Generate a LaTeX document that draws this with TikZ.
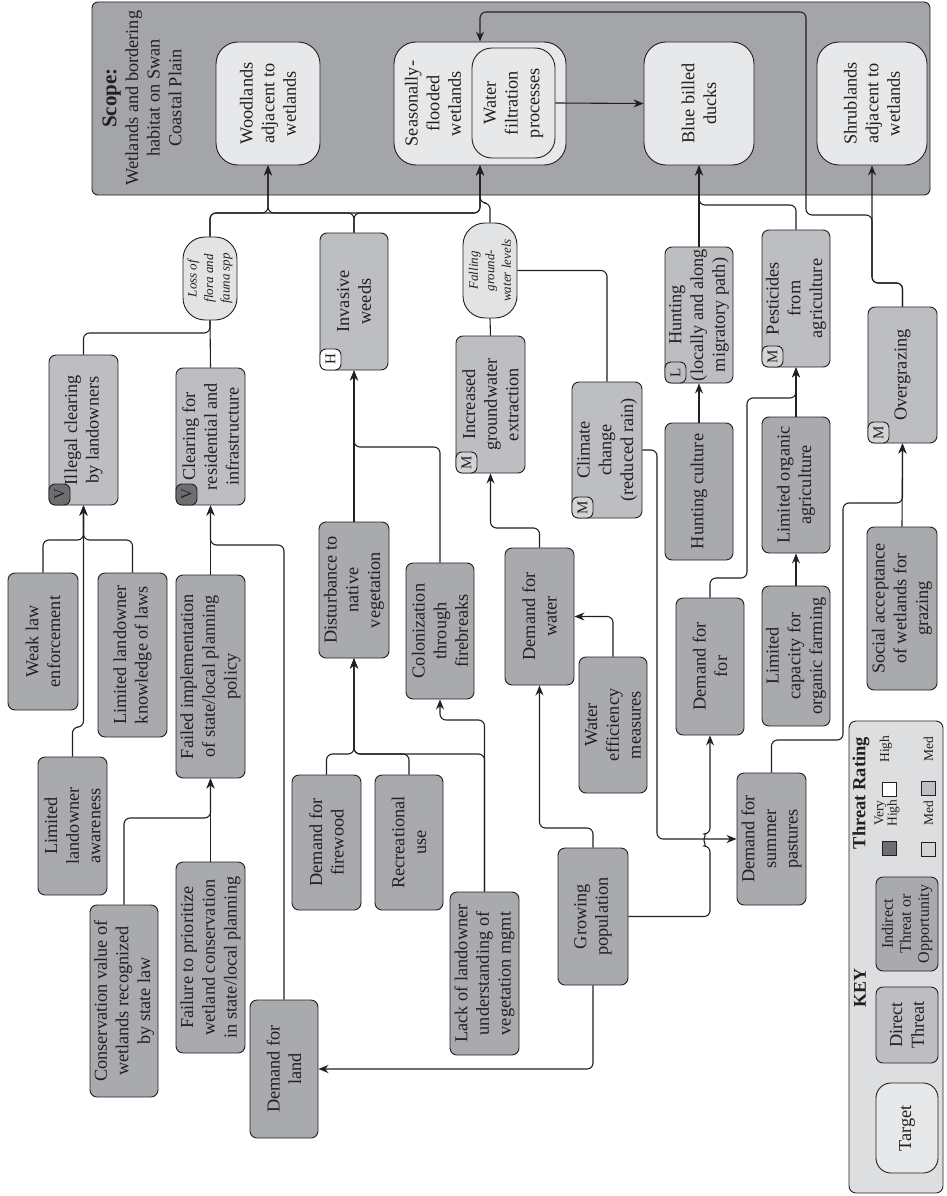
\documentclass[tikz,border=0pt]{standalone}
\usepackage{fontspec}
\setmainfont{Liberation Serif}
\usetikzlibrary{arrows.meta}
\definecolor{ink}{HTML}{231F20}
\definecolor{scopec}{HTML}{A4A5A8}
\definecolor{factorc}{HTML}{A9AAAD}
\definecolor{directc}{HTML}{BDBEC1}
\definecolor{targetc}{HTML}{E7E8E9}
\definecolor{resultc}{HTML}{E2E3E5}
\definecolor{keyc}{HTML}{DDDEE0}
\definecolor{vhc}{HTML}{6D6E71}
\definecolor{medc}{HTML}{D3D4D6}
\definecolor{lowc}{HTML}{BDBEC1}
\newcommand\fs{\fontsize{18.3}{21.7}\selectfont}
\begin{document}
\begin{tikzpicture}[x=1pt,y=1pt,
  base/.style={rotate=90, draw=ink, line width=0.9pt, inner sep=0pt, align=center, text=ink, font=\fs},
  sz/.style 2 args={minimum width=#1pt, minimum height=#2pt},
  factor/.style={base, fill=factorc, rounded corners=7pt},
  direct/.style={base, fill=directc, rounded corners=7pt},
  target/.style={base, fill=targetc, rounded corners=22pt},
  result/.style={base, fill=resultc, rounded corners=22pt, font=\fontsize{13}{16.5}\selectfont\itshape},
  rot/.style={rotate=90, inner sep=0pt, align=center, text=ink, font=\fs},
  badge/.style={rotate=90, draw=ink, line width=0.9pt, rounded corners=6pt, minimum width=21pt, minimum height=21pt, inner sep=0pt, text=ink, font=\fontsize{15}{15}\selectfont, anchor=north west},
  conn/.style={draw=ink, line width=1.1pt, rounded corners=6pt},
  arr/.style={conn, -{Stealth[length=10pt,width=8pt]}},
  sq/.style={draw=ink, line width=0.8pt, minimum width=14pt, minimum height=14pt, inner sep=0pt},
  small/.style={rotate=90, inner sep=0pt, align=center, text=ink, font=\fontsize{13.5}{11.5}\selectfont}
]
\useasboundingbox (0,0) rectangle (946,-1196);

% scope
\node[draw=ink, line width=0.9pt, fill=scopec, rounded corners=6pt, minimum width=838pt, minimum height=193pt, inner sep=0pt] (scope) at (511,-98.5) {};
\node[rot] (scopet) at (142,-98) {{\fontsize{21}{23}\selectfont\bfseries Scope:}\\Wetlands and bordering\\habitat on Swan\\Coastal Plain};

% targets
\node[target, sz={123}{104}] (wood) at (268,-103.5) {Woodlands\\adjacent to\\wetlands};
\node[target, sz={123}{172}] (sfw) at (480,-103.5) {};
\node[rot] (sfwt) at (433,-103.5) {Seasonally-\\flooded\\wetlands};
\node[target, sz={110}{83}, rounded corners=20pt] (wf) at (513.5,-103) {Water\\filtration\\processes};
\node[target, sz={123}{110}] (bbd) at (699,-103.5) {Blue billed\\ducks};
\node[target, sz={123}{110}] (shr) at (872,-103.5) {Shrublands\\adjacent to\\wetlands};

% intermediate results
\node[result, sz={83}{54}] (loss) at (210,-278.5) {Loss of\\flora and\\fauna spp};
\node[result, sz={95}{54}] (fall) at (490,-270.5) {Falling\\ground-\\water levels};

% direct threats
\node[direct, sz={150}{69}] (ill) at (83.5,-430) {Illegal clearing\\by landowners};
\node[direct, sz={137}{69}] (clr) at (210.5,-436.5) {Clearing for\\residential and\\infrastructure};
\node[direct, sz={137}{68}] (inv) at (354,-301.5) {Invasive\\weeds};
\node[direct, sz={137}{69}] (igw) at (490.5,-404.5) {Increased\\groundwater\\extraction};
\node[direct, sz={136}{70}] (cc) at (607,-450) {Climate\\change\\(reduced rain)};
\node[direct, sz={136}{68}] (hunt) at (699,-315) {Hunting\\(locally and along\\migratory path)};
\node[direct, sz={137}{68}] (pest) at (796,-298.5) {Pesticides\\from\\agriculture};
\node[direct, sz={136}{69}] (og) at (902.5,-375) {Overgrazing};

% badges
\node[badge, fill=vhc] (illb) at (ill.north west) {V};
\node[badge, fill=vhc] (clrb) at (clr.north west) {V};
\node[badge, fill=white] (invb) at (inv.north west) {H};
\node[badge, fill=medc] (igwb) at (igw.north west) {M};
\node[badge, fill=medc] (ccb) at (cc.north west) {M};
\node[badge, fill=lowc] (huntb) at (hunt.north west) {L};
\node[badge, fill=medc] (pestb) at (pest.north west) {M};
\node[badge, fill=medc] (ogb) at (og.north west) {M};

% contributing factors
\node[factor, sz={137}{70}] (weak) at (43,-641.5) {Weak law\\enforcement};
\node[factor, sz={164}{69}] (lkl) at (132.5,-655) {Limited landowner\\knowledge of laws};
\node[factor, sz={138}{69}] (aware) at (72.5,-826) {Limited\\landowner\\awareness};
\node[factor, sz={203}{69}] (fail) at (210.5,-676.5) {Failed implementation\\of state/local planning\\policy};
\node[factor, sz={192}{68}] (cons) at (124,-1001) {Conservation value of\\wetlands recognized\\by state law};
\node[factor, sz={191}{69}] (fprio) at (210.5,-957.5) {Failure to prioritize\\wetland conservation\\in state/local planning};
\node[factor, sz={138}{68}] (dland) at (284,-1069) {Demand for\\land};
\node[factor, sz={136}{70}] (dist) at (354,-590) {Disturbance to\\native\\vegetation};
\node[factor, sz={136}{68}] (colo) at (440,-631) {Colonization\\through\\firebreaks};
\node[factor, sz={135}{69}] (fire) at (326.5,-842.5) {Demand for\\firewood};
\node[factor, sz={135}{68}] (rec) at (409,-842.5) {Recreational\\use};
\node[factor, sz={163}{69}] (lack) at (484.5,-973.5) {Lack of landowner\\understanding of\\vegetation mgmt};
\node[factor, sz={137}{69}] (dw) at (539.5,-616.5) {Demand for\\water};
\node[factor, sz={136}{68}] (weff) at (613,-725) {Water\\efficiency\\measures};
\node[factor, sz={137}{70}] (gp) at (593,-916.5) {Growing\\population};
\node[factor, sz={137}{68}] (dff) at (710,-666.5) {Demand for\\for};
\node[factor, sz={137}{68}] (hc) at (699,-491.5) {Hunting culture};
\node[factor, sz={136}{68}] (loa) at (796,-485) {Limited organic\\agriculture};
\node[factor, sz={140}{68}] (lcap) at (796,-656) {Limited\\capacity for\\organic farming};
\node[factor, sz={132}{69}] (dsp) at (771.5,-839) {Demand for\\summer\\pastures};
\node[factor, sz={163}{70}] (soc) at (902,-608.5) {Social acceptance\\of wetlands for\\grazing};

% connectors
\draw[arr] (weak.east) -- (43,-540) -- (83.5,-540) -- (ill.west);
\draw[arr] (lkl.east) -- (132.5,-540) -- (83.5,-540) -- (ill.west);
\draw[arr] (aware.east) -- (72.5,-727) -- (83.5,-727) -- (ill.west);
\draw[conn] (ill.east) -- (83.5,-333) -- (210,-333) -- (loss.west);
\draw[conn] (clr.east) -- (loss.west);
\draw[arr] (cons.east) -- (124,-818) -- (210.5,-818) -- (fail.west);
\draw[arr] (fprio.east) -- (fail.west);
\draw[arr] (fail.east) -- (clr.west);
\draw[arr] (dland.east) -- (284,-545) -- (210.5,-545) -- (clr.west);
\draw[arr] (loss.east) -- (210,-213) -- (268,-213) -- (wood.west);
\draw[arr] (loss.east) -- (210,-213) -- (480,-213) -- (sfw.west);
\draw[arr] (inv.east) -- (354,-213) -- (268,-213) -- (wood.west);
\draw[arr] (inv.east) -- (354,-213) -- (480,-213) -- (sfw.west);
\draw[arr] (fall.east) -- (490,-203) -- (480,-203) -- (sfw.west);
\draw[conn] (igw.east) -- (fall.west);
\draw[conn] (cc.east) |- (fall.south);
\draw[arr] (dist.east) -- (inv.west);
\draw[arr] (colo.east) -- (440,-447) -- (354,-447) -- (inv.west);
\draw[arr] (fire.east) -- (326.5,-754) -- (354,-754) -- (dist.west);
\draw[arr] (rec.east) -- (409,-754) -- (354,-754) -- (dist.west);
\draw[arr] (lack.east) -- (484.5,-754) -- (354,-754) -- (dist.west);
\draw[arr] (lack.east) -- (484.5,-720) -- (440,-720) -- (colo.west);
\draw[arr] (dw.east) -- (539.5,-528) -- (490.5,-528) -- (igw.west);
\draw[arr] (weff.east) |- (dw.south);
\draw[arr] (gp.east) -- (593,-828) -- (539.5,-828) -- (dw.west);
\draw[arr] (gp.west) |- (dland.south);
\draw[arr] (gp.south) -- (710,-916.5) -- (710,-846) arc[start angle=-90, end angle=-270, radius=6] -- (dff.west);
\draw[arr] (cc.south) -- (657,-450) -- (657,-839) -- (dsp.north);
\draw[arr] (hc.east) -- (hunt.west);
\draw[arr] (hunt.east) -- (bbd.west);
\draw[arr] (pest.east) -- (796,-205) -- (699,-205) -- (bbd.west);
\draw[arr] (loa.east) -- (pest.west);
\draw[arr] (lcap.east) -- (loa.west);
\draw[arr] (dff.east) -- (710,-578) -- (747,-578) -- (747,-398) -- (796,-398) -- (pest.west);
\draw[arr] (soc.east) -- (og.west);
\draw[arr] (dsp.east) -- (771.5,-740) -- (843,-740) -- (843,-503) -- (902.5,-503) -- (og.west);
\draw[arr] (og.east) -- (902.5,-283) -- (872,-283) -- (shr.west);
\draw[arr] (og.east) -- (902.5,-283) -- (872,-283) -- (872,-215) -- (806,-215) -- (806,-12) -- (480,-12) -- (sfw.east);
\draw[arr] (wf.south) -- (bbd.north);

% key
\node[draw=ink, line width=0.9pt, fill=keyc, rounded corners=7pt, minimum width=94pt, minimum height=472pt, inner sep=0pt] (key) at (896,-957) {};
\node[rot, font=\fontsize{18}{20}\selectfont\bfseries] (keyt) at (860,-988) {KEY};
\node[target, sz={90}{62}, rounded corners=15pt] (kt) at (907,-1128) {Target};
\node[direct, sz={76}{62}] (kd) at (907,-1025) {Direct\\Threat};
\node[factor, sz={94}{62}, font=\fontsize{16}{18}\selectfont] (ki) at (907,-924) {Indirect\\Threat or\\Opportunity};
\node[rot, font=\fontsize{18.5}{20}\selectfont\bfseries] (trt) at (861,-793) {Threat Rating};
\node[sq, fill=vhc] (s1) at (889.5,-848) {};
\node[small] (t1) at (887,-813) {Very\\High};
\node[sq, fill=white] (s2) at (889.5,-789) {};
\node[small] (t2) at (886,-749) {High};
\node[sq, fill=medc] (s3) at (928.5,-849) {};
\node[small] (t3) at (928.5,-813) {Med};
\node[sq, fill=lowc] (s4) at (928.5,-788) {};
\node[small] (t4) at (928.5,-749) {Med};
\end{tikzpicture}
\end{document}
